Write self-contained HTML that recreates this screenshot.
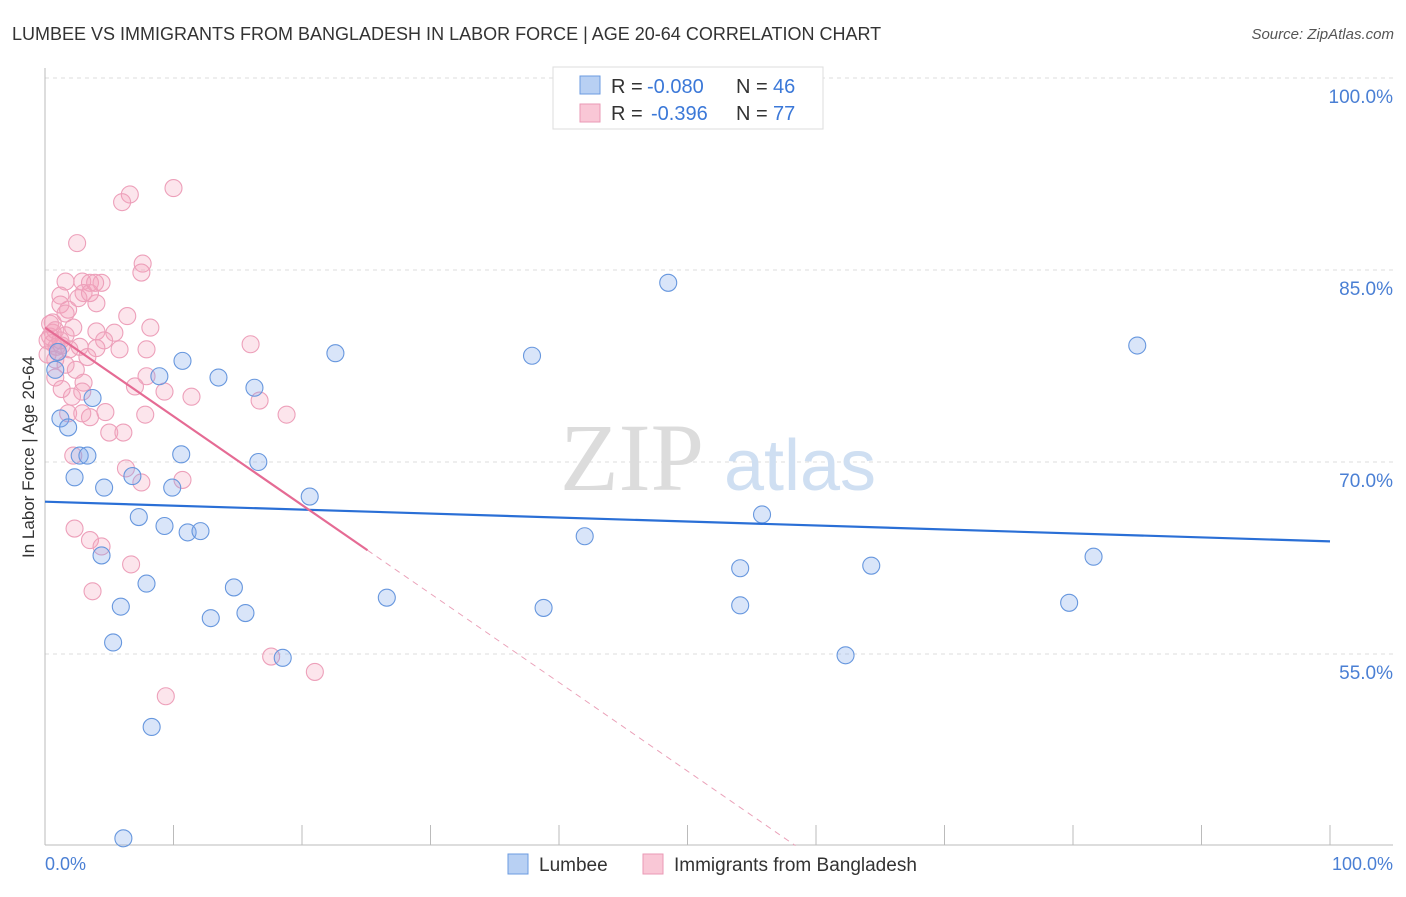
<!DOCTYPE html>
<html><head><meta charset="utf-8"><style>
body{margin:0;background:#fff;font-family:"Liberation Sans",sans-serif}
</style></head><body>
<svg id="chart" width="1406" height="892" xmlns="http://www.w3.org/2000/svg" font-family="Liberation Sans, sans-serif">
<text x="12" y="40" font-size="18" fill="#333">LUMBEE VS IMMIGRANTS FROM BANGLADESH IN LABOR FORCE | AGE 20-64 CORRELATION CHART</text>
<text x="1394" y="39" font-size="15" fill="#555" text-anchor="end" font-style="italic">Source: ZipAtlas.com</text>
<g id="grid"></g>
<g><text x="632" y="490" font-size="96" fill="#dcdcdc" font-family="Liberation Serif, serif" text-anchor="middle">ZIP</text><text x="800" y="490" font-size="72" fill="#cfdff2" text-anchor="middle">atlas</text></g>
<text transform="translate(34,457) rotate(-90)" font-size="17" fill="#333" text-anchor="middle">In Labor Force | Age 20-64</text>
<g id="pts"></g>
<g id="lines"></g>
<g>
<rect x="553" y="67" width="270" height="62" fill="#fff" stroke="#ddd"/>
<rect x="580" y="76" width="20" height="18" fill="#b8d0f3" stroke="#6b9be0"/>
<rect x="580" y="104" width="20" height="18" fill="#f9c7d6" stroke="#ea9ab5"/>
<text x="611" y="93" font-size="20" fill="#333">R =</text>
<text x="647" y="93" font-size="20" fill="#3b78d8">-0.080</text>
<text x="736" y="93" font-size="20" fill="#333">N =</text>
<text x="773" y="93" font-size="20" fill="#3b78d8">46</text>
<text x="611" y="120" font-size="20" fill="#333">R =</text>
<text x="651" y="120" font-size="20" fill="#3b78d8">-0.396</text>
<text x="736" y="120" font-size="20" fill="#333">N =</text>
<text x="773" y="120" font-size="20" fill="#3b78d8">77</text>
</g>
<g>
<rect x="508" y="854" width="20" height="20" fill="#b8d0f3" stroke="#6b9be0"/>
<text x="539" y="871" font-size="19" fill="#333">Lumbee</text>
<rect x="643" y="854" width="20" height="20" fill="#f9c7d6" stroke="#ea9ab5"/>
<text x="674" y="871" font-size="19" fill="#333">Immigrants from Bangladesh</text>
</g>
</svg>
<script>
const yTicks=[100,85,70,55];
const yTickLabels=["100.0%","85.0%","70.0%","55.0%"];
const xTicks=[0,10,20,30,40,50,60,70,80,90,100];
const xLabels=["0.0%","100.0%"];
const blueX=[0.8,1.0,1.2,1.8,2.3,2.7,3.3,3.7,4.6,4.4,5.9,5.3,6.1,6.8,7.3,7.9,8.3,8.9,9.3,9.9,10.7,10.6,11.1,12.1,12.9,13.5,14.7,15.6,16.3,16.6,18.5,20.6,22.6,26.6,37.9,38.8,42.0,48.5,54.1,54.1,55.8,62.3,64.3,79.7,81.6,85.0];
const blueY=[77.2,78.6,73.4,72.7,68.8,70.5,70.5,75.0,68.0,62.7,58.7,55.9,40.6,68.9,65.7,60.5,49.3,76.7,65.0,68.0,77.9,70.6,64.5,64.6,57.8,76.6,60.2,58.2,75.8,70.0,54.7,67.3,78.5,59.4,78.3,58.6,64.2,84.0,61.7,58.8,65.9,54.9,61.9,59.0,62.6,79.1];
const pinkX=[10.0,6.6,6.0,2.5,7.6,7.5,1.6,2.9,3.5,4.4,3.0,1.2,4.0,1.2,1.8,1.6,6.4,0.6,2.2,8.2,0.6,4.0,5.4,1.6,0.4,4.6,0.6,5.8,2.7,4.0,7.9,16.0,3.3,1.0,0.8,2.4,0.8,7.9,3.0,7.0,9.3,11.4,16.7,2.1,2.9,4.7,1.8,3.5,7.8,18.8,5.0,6.1,2.2,6.3,10.7,7.5,2.3,3.5,4.4,6.7,3.7,17.6,21.0,9.4,1.3,0.4,0.8,0.2,0.9,1.3,1.9,0.2,1.2,1.6,2.6,3.5,2.9,3.9];
const pinkY=[91.4,90.9,90.3,87.1,85.5,84.8,84.1,84.1,84.0,84.0,83.2,83.0,82.4,82.3,81.9,81.6,81.4,80.9,80.5,80.5,80.1,80.2,80.1,79.9,79.8,79.5,79.3,78.8,79.0,78.9,78.8,79.2,78.2,78.6,78.0,77.2,76.6,76.7,76.2,75.9,75.5,75.1,74.8,75.1,75.5,73.9,73.8,73.5,73.7,73.7,72.3,72.3,70.5,69.5,68.6,68.4,64.8,63.9,63.4,62.0,59.9,54.8,53.6,51.7,75.7,80.8,80.3,79.5,79.0,79.1,78.8,78.4,79.5,77.6,82.8,83.2,73.8,84.0];
const blueTrend=[66.9,-0.031];
const pinkTrend=[80.5,-0.693];
const pinkSolidEnd=25.1, pinkDashEnd=58.4;
const NS="http://www.w3.org/2000/svg";
const X=v=>45+v*12.85, Y=v=>78+(100-v)*12.8;
function mk(t,a,p){const e=document.createElementNS(NS,t);for(const k in a)e.setAttribute(k,a[k]);p.appendChild(e);return e;}
const grid=document.getElementById('grid');
yTicks.forEach((t,i)=>{
 const l=mk('line',{x1:45,x2:1393,y1:Y(t),y2:Y(t),stroke:'#ddd','stroke-dasharray':'4,4'},grid);
 
 const tx=mk('text',{x:1393,y:Y(t)+25,'font-size':19,fill:'#4a7fd4','text-anchor':'end'},grid);
 tx.textContent=yTickLabels[i];
 
});
mk('line',{x1:45,x2:45,y1:68,y2:845,stroke:'#bbb'},grid);
mk('line',{x1:45,x2:1393,y1:845,y2:845,stroke:'#bbb'},grid);
xTicks.forEach(t=>{const l=mk('line',{x1:X(t),x2:X(t),y1:825,y2:845,stroke:'#bbb'},grid);
 });
const xl0=mk('text',{x:45,y:870,'font-size':18,fill:'#4a7fd4'},grid);xl0.textContent=xLabels[0];

const xl1=mk('text',{x:1393,y:870,'font-size':18,fill:'#4a7fd4','text-anchor':'end'},grid);xl1.textContent=xLabels[1];

const pts=document.getElementById('pts');
pinkX.forEach((v,i)=>{const c=mk('circle',{cx:X(v),cy:Y(pinkY[i]),r:8.5,fill:'rgba(244,160,188,0.28)',stroke:'#eda0ba','stroke-width':1.1},pts);
 });
blueX.forEach((v,i)=>{const c=mk('circle',{cx:X(v),cy:Y(blueY[i]),r:8.5,fill:'rgba(130,170,235,0.3)',stroke:'#6797de','stroke-width':1.1},pts);
 });
const ln=document.getElementById('lines');
const bl=mk('line',{x1:X(0),y1:Y(blueTrend[0]),x2:X(100),y2:Y(blueTrend[0]+blueTrend[1]*100),stroke:'#2a6fd6','stroke-width':2.2},ln);

const pl=mk('line',{x1:X(0),y1:Y(pinkTrend[0]),x2:X(pinkSolidEnd),y2:Y(pinkTrend[0]+pinkTrend[1]*pinkSolidEnd),stroke:'#e56b94','stroke-width':2.2},ln);

const pd=mk('line',{x1:X(pinkSolidEnd),y1:Y(pinkTrend[0]+pinkTrend[1]*pinkSolidEnd),x2:X(pinkDashEnd),y2:Y(pinkTrend[0]+pinkTrend[1]*pinkDashEnd),stroke:'#eaa0b8','stroke-width':1,'stroke-dasharray':'6,5'},ln);

</script>
</body></html>
